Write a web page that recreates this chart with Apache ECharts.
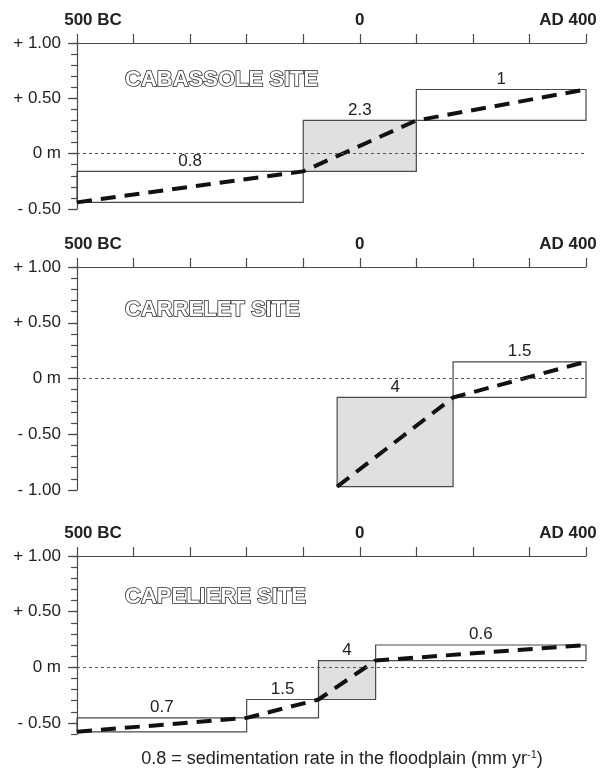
<!DOCTYPE html>
<html><head><meta charset="utf-8">
<script src="https://cdn.jsdelivr.net/npm/echarts@6/dist/echarts.min.js"></script>
<style>html,body{margin:0;padding:0;background:#fff}#c{width:603px;height:778px}</style>
</head><body><div id="c"></div>
<script>
// ---------- data ----------
const xTickValues = [-500, 0, 400];
const xTickLabels = ['500 BC', '0', 'AD 400'];
const yLabelValues = [1, 0.5, 0, -0.5, -1];
const yLabelTexts = ['+ 1.00', '+ 0.50', '0 m', '- 0.50', '- 1.00'];
const siteNames = ['CABASSOLE SITE', 'CARRELET SITE', 'CAPELIERE SITE'];
const yMins = [-0.5, -1, -0.6];

// Cabassole: boundary years (BC negative) and levels (m)
const cabYears = [-500, -100, 100, 400];
const cabLevels = [-0.44, -0.16, 0.30, 0.58];
const cabRates = ['0.8', '2.3', '1'];
const cabShaded = [false, true, false];

// Carrelet
const carYears = [-40, 165, 400];
const carLevels = [-0.97, -0.17, 0.15];
const carRates = ['4', '1.5'];
const carShaded = [true, false];

// Capeliere
const capYears = [-500, -200, -73, 28, 400];
const capLevels = [-0.58, -0.455, -0.29, 0.06, 0.20];
const capRates = ['0.7', '1.5', '4', '0.6'];
const capShaded = [false, false, true, false];

const captionText = '0.8 = sedimentation rate in the floodplain (mm yr{sup|-1})';

// ---------- chart ----------
const FONT = '"Liberation Sans", Arial, Helvetica, sans-serif';
const INK = '#222';
const AXIS = '#4a4a4a';
const panels = [
  {years: cabYears, levels: cabLevels, rates: cabRates, shaded: cabShaded},
  {years: carYears, levels: carLevels, rates: carRates, shaded: carShaded},
  {years: capYears, levels: capLevels, rates: capRates, shaded: capShaded}
];
const grids = [
  {left: 77, right: 17, top: 43, height: 166},
  {left: 77, right: 17, top: 267, height: 223},
  {left: 77, right: 17, top: 556, height: 178}
];
const titleY = [80, 310, 597];

const chart = echarts.init(document.getElementById('c'), null, {renderer: 'canvas'});
const xAxes = [], yAxes = [], series = [], graphics = [];

panels.forEach((p, i) => {
  xAxes.push({
    gridIndex: i, type: 'value', position: 'top', min: -500, max: 400, interval: 100,
    axisLine: {onZero: false, lineStyle: {color: AXIS, width: 1.2}},
    axisTick: {length: 9, lineStyle: {color: AXIS, width: 1.2}},
    splitLine: {show: false},
    axisLabel: {
      margin: 14, color: INK, fontFamily: FONT, fontSize: 17, fontWeight: 'bold',
      formatter: v => {
        const k = xTickValues.indexOf(v);
        if (k < 0) return '';
        const tag = k === 0 ? 'l' : (k === xTickValues.length - 1 ? 'r' : 'c');
        return '{' + tag + '|' + xTickLabels[k] + '}';
      },
      rich: {
        l: {fontFamily: FONT, fontSize: 17, fontWeight: 'bold', color: INK, padding: [0, 0, 0, 32]},
        c: {fontFamily: FONT, fontSize: 17, fontWeight: 'bold', color: INK},
        r: {fontFamily: FONT, fontSize: 17, fontWeight: 'bold', color: INK, padding: [0, 36, 0, 0]}
      }
    }
  });
  const majors = yLabelValues.filter(v => v >= yMins[i] - 1e-9);
  yAxes.push({
    gridIndex: i, type: 'value', position: 'left', min: yMins[i], max: 1, interval: 0.1,
    axisLine: {show: true, onZero: false, lineStyle: {color: AXIS, width: 1.2}},
    axisTick: {length: 6, lineStyle: {color: AXIS, width: 1.2}},
    axisLabel: {show: false}, splitLine: {show: false}
  });
  yAxes.push({
    gridIndex: i, type: 'value', position: 'left', min: yMins[i], max: 1, interval: 0.1,
    axisLine: {show: false, onZero: false},
    axisTick: {length: 9, customValues: majors, lineStyle: {color: AXIS, width: 1.2}},
    axisLabel: {
      customValues: majors, margin: 16, color: INK, fontFamily: FONT, fontSize: 17,
      formatter: v => {
        const k = yLabelValues.findIndex(t => Math.abs(t - v) < 1e-6);
        return k < 0 ? '' : yLabelTexts[k];
      }
    },
    splitLine: {show: false}
  });

  const boxes = [];
  for (let k = 0; k < p.years.length - 1; k++) {
    boxes.push([p.years[k], p.years[k + 1], p.levels[k], p.levels[k + 1], p.shaded[k] ? 1 : 0, k]);
  }
  series.push({
    type: 'custom', xAxisIndex: i, yAxisIndex: 2 * i, z: 2, silent: true,
    encode: {x: [0, 1], y: [2, 3]},
    data: boxes,
    renderItem: (params, api) => {
      const a = api.coord([api.value(0), api.value(3)]);
      const b = api.coord([api.value(1), api.value(2)]);
      const k = api.value(5);
      return {
        type: 'group',
        children: [
          {type: 'rect', shape: {x: a[0], y: a[1], width: b[0] - a[0], height: b[1] - a[1]},
           style: {fill: api.value(4) ? '#e0e0e0' : 'rgba(0,0,0,0)', stroke: '#4a4a4a', lineWidth: 1.2}},
          {type: 'text', x: (a[0] + b[0]) / 2, y: a[1] - 2,
           style: {text: p.rates[k], font: '17px ' + FONT, fill: INK,
                   align: 'center', verticalAlign: 'bottom', textAlign: 'center', textVerticalAlign: 'bottom'}}
        ]
      };
    }
  });
  series.push({
    type: 'line', xAxisIndex: i, yAxisIndex: 2 * i, z: 4, silent: true,
    symbol: 'none',
    data: p.years.map((y, k) => [y, p.levels[k]]),
    lineStyle: {color: '#111', width: 4, type: [15, 9]},
    markLine: {
      silent: true, symbol: ['none', 'none'], label: {show: false},
      lineStyle: {color: '#555', width: 1, type: [3, 3]},
      data: [{yAxis: 0}]
    }
  });
  graphics.push({
    type: 'text', x: 125, y: titleY[i], z: 10,
    style: {text: siteNames[i], font: 'bold 22px ' + FONT, fill: '#fff', stroke: '#2a2a2a', lineWidth: 1.6,
            textVerticalAlign: 'middle', verticalAlign: 'middle'}
  });
});

graphics.push({
  type: 'text', x: 342, y: 759, z: 10,
  style: {
    text: captionText, font: '18px ' + FONT, fill: INK,
    textAlign: 'center', align: 'center', textVerticalAlign: 'middle', verticalAlign: 'middle',
    rich: {sup: {fontSize: 11, fontFamily: FONT, fill: INK, color: INK, verticalAlign: 'top', padding: [0, 0, 8, 0]}}
  }
});

chart.setOption({
  animation: false,
  backgroundColor: '#fff',
  grid: grids,
  xAxis: xAxes,
  yAxis: yAxes,
  series: series,
  graphic: graphics
});
</script>
</body></html>
